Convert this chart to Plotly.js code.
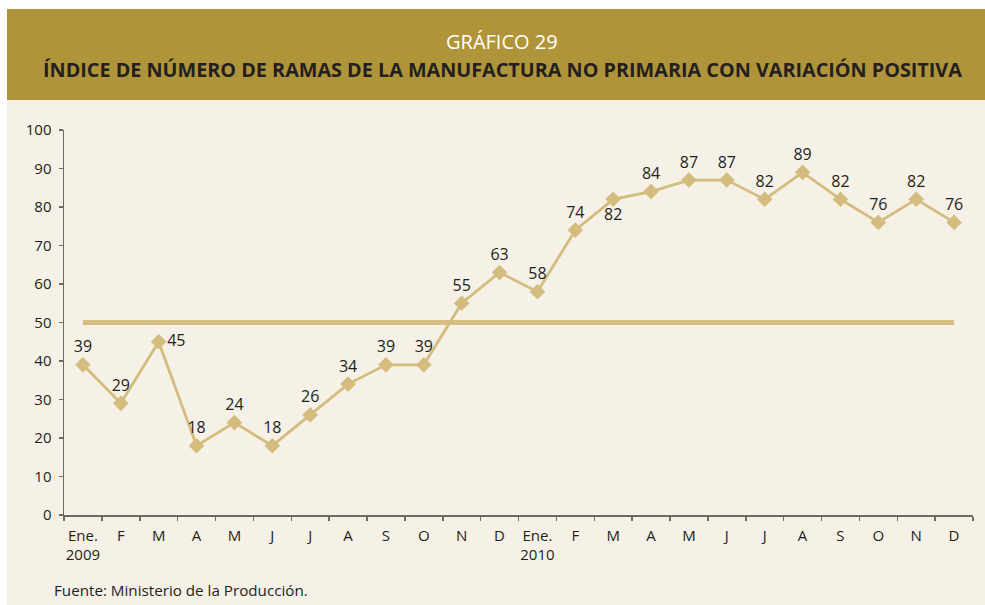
<!DOCTYPE html>
<html>
<head>
<meta charset="utf-8">
<script src="https://cdn.plot.ly/plotly-3.0.1.min.js"></script>
<style>
  html, body { margin: 0; padding: 0; background: #ffffff; }
  #chart { width: 985px; height: 605px; }
</style>
</head>
<body>
<div id="chart"></div>
<script>
// ---- Data ----
const monthLabels = ["Ene.<br>2009", "F", "M", "A", "M", "J", "J", "A", "S", "O", "N", "D",
                     "Ene.<br>2010", "F", "M", "A", "M", "J", "J", "A", "S", "O", "N", "D"];
const indexValues = [39, 29, 45, 18, 24, 18, 26, 34, 39, 39, 55, 63,
                     58, 74, 82, 84, 87, 87, 82, 89, 82, 76, 82, 76];
const thresholdValue = 50;
const yTickValues = [0, 10, 20, 30, 40, 50, 60, 70, 80, 90, 100];

const titleText = "GRÁFICO 29";
const subtitleText = "ÍNDICE DE NÚMERO DE RAMAS DE LA MANUFACTURA NO PRIMARIA CON VARIACIÓN POSITIVA";
const sourceText = "Fuente: Ministerio de la Producción.";

// ---- Layout helpers (pixel -> paper coordinates) ----
const W = 985, H = 605;
const M = { l: 64, r: 12, t: 130, b: 90 };
const plotW = W - M.l - M.r, plotH = H - M.t - M.b;
const px = v => (v - M.l) / plotW;
const py = v => (H - M.b - v) / plotH;

const xIdx = monthLabels.map((_, i) => i);
const textPos = indexValues.map((_, i) => i === 2 ? "middle right" : (i === 14 ? "bottom center" : "top center"));

const lineColor = "#D4BC7E";
const darkText = "#231F20";
const fontFam = "'Open Sans', 'DejaVu Sans', sans-serif";

const traces = [
  {
    x: [xIdx[0], xIdx[xIdx.length - 1]],
    y: [thresholdValue, thresholdValue],
    mode: "lines",
    line: { color: "#D6BE82", width: 5 },
    hoverinfo: "skip",
    showlegend: false
  },
  {
    x: xIdx,
    y: indexValues,
    mode: "lines+markers+text",
    line: { color: lineColor, width: 2.8 },
    marker: { symbol: "diamond", size: 12, color: lineColor },
    text: indexValues.map(String),
    textposition: textPos,
    textfont: { family: fontFam, size: 16, color: darkText },
    cliponaxis: false,
    showlegend: false
  }
];

const layout = {
  width: W, height: H,
  margin: M,
  paper_bgcolor: "#ffffff",
  plot_bgcolor: "rgba(0,0,0,0)",
  font: { family: fontFam, color: darkText, size: 15 },
  showlegend: false,
  xaxis: {
    type: "linear",
    range: [-0.5, 23.5],
    tickmode: "array",
    tickvals: xIdx,
    ticktext: monthLabels,
    ticks: "",
    ticklabelstandoff: 6,
    showgrid: false,
    zeroline: false,
    showline: true,
    linecolor: "#6d6a68",
    linewidth: 1.5,
    tickfont: { family: fontFam, size: 15, color: darkText },
    minor: { tick0: -0.5, dtick: 1, ticks: "outside", ticklen: 4, tickwidth: 1.5, tickcolor: "#6d6a68", showgrid: false },
    fixedrange: true
  },
  yaxis: {
    range: [0, 100],
    tickmode: "array",
    tickvals: yTickValues,
    ticks: "outside",
    ticklen: 4,
    tickwidth: 1.5,
    tickcolor: "#6d6a68",
    ticklabelstandoff: 4,
    showgrid: false,
    zeroline: false,
    showline: true,
    linecolor: "#6d6a68",
    linewidth: 1.5,
    tickfont: { family: fontFam, size: 15, color: darkText },
    fixedrange: true
  },
  shapes: [
    { type: "rect", xref: "paper", yref: "paper", layer: "below",
      x0: px(7), x1: px(985), y0: py(605), y1: py(100),
      fillcolor: "#F5F1E6", line: { width: 0 } },
    { type: "rect", xref: "paper", yref: "paper", layer: "below",
      x0: px(7), x1: px(985), y0: py(100), y1: py(9),
      fillcolor: "#B0943A", line: { width: 0 } }
  ],
  annotations: [
    { text: titleText, xref: "paper", yref: "paper", x: px(502), y: py(42),
      xanchor: "center", yanchor: "middle", showarrow: false,
      font: { family: fontFam, size: 20, color: "#ffffff" } },
    { text: "<b>" + subtitleText + "</b>", xref: "paper", yref: "paper", x: px(502), y: py(69),
      xanchor: "center", yanchor: "middle", showarrow: false,
      font: { family: fontFam, size: 19.8, color: darkText } },
    { text: sourceText, xref: "paper", yref: "paper", x: px(52), y: py(590),
      xanchor: "left", yanchor: "middle", showarrow: false,
      font: { family: fontFam, size: 15.2, color: darkText } }
  ]
};

Plotly.newPlot("chart", traces, layout, { displayModeBar: false, staticPlot: true });
</script>
</body>
</html>
